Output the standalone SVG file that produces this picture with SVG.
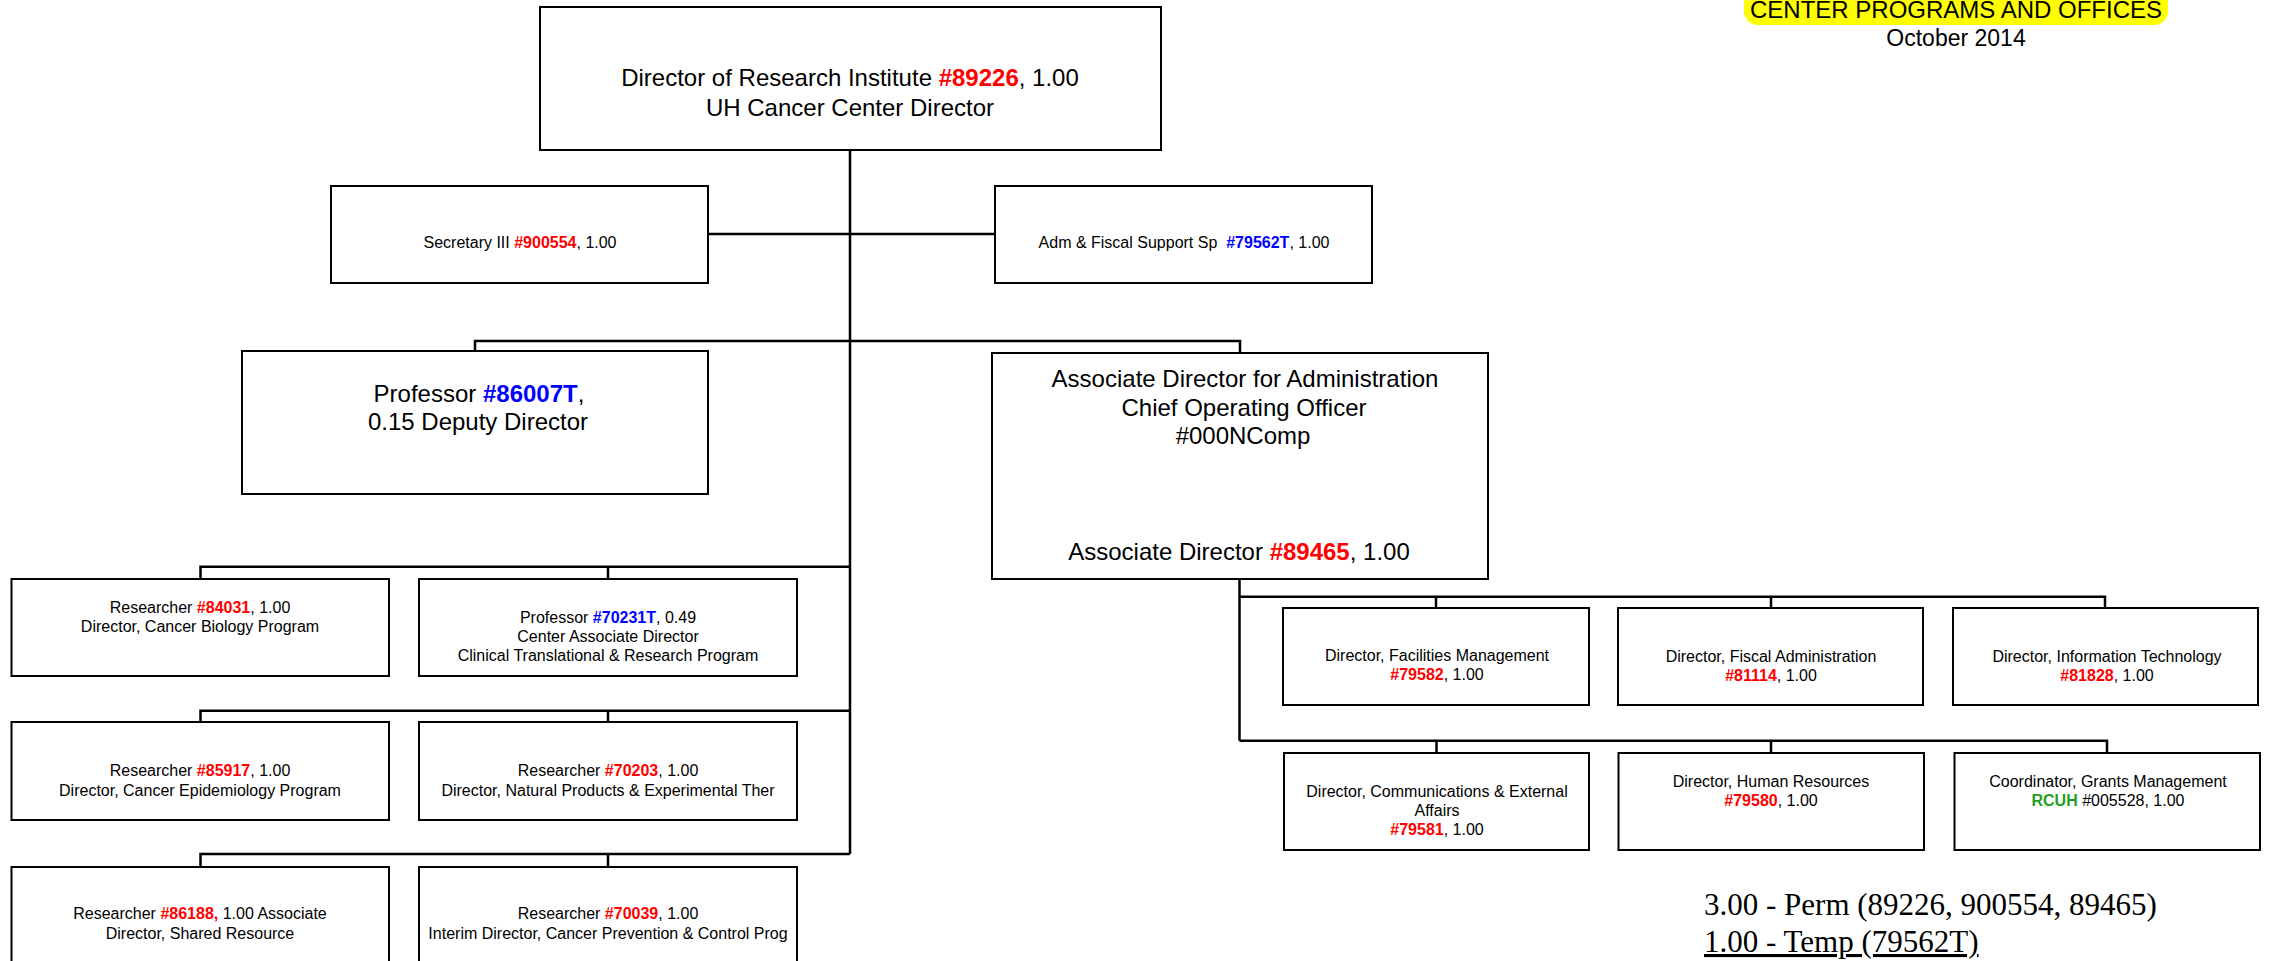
<svg xmlns="http://www.w3.org/2000/svg" width="2269" height="961" viewBox="0 0 2269 961">
<style>
  .box { fill: #ffffff; stroke: #000000; stroke-width: 2; }
  .ln { fill: none; stroke: #000000; stroke-width: 2.5; }
  text { font-family: "Liberation Sans", Arial, sans-serif; fill: #000000; text-anchor: middle; }
  .big { font-size: 24px; }
  .sm { font-size: 16px; }
  .r { fill: #ff0000; font-weight: bold; }
  .b { fill: #0000ff; font-weight: bold; }
  .g { fill: #1fa01f; font-weight: bold; }
  .serif { font-family: "Liberation Serif", "Times New Roman", serif; font-size: 31px; text-anchor: start; }
</style>
<rect width="2269" height="961" fill="#ffffff"/>

<g id="title">
  <rect x="1744" y="-12" width="424" height="37" rx="14" fill="#ffff00"/>
  <text class="big" x="1956" y="18">CENTER PROGRAMS AND OFFICES</text>
  <text x="1956" y="46" style="font-size:23px">October 2014</text>
</g>

<g id="connectors">
  <path class="ln" d="M850,150 V854"/>
  <path class="ln" d="M708,234 H995"/>
  <path class="ln" d="M475,351 V341 H1240 V353"/>
  <path class="ln" d="M200.5,579 V566.7 H850 M608,566.7 V579"/>
  <path class="ln" d="M200.5,722 V710.7 H850 M608,710.7 V722"/>
  <path class="ln" d="M200.5,867 V854 H850 M608,854 V867"/>
  <path class="ln" d="M1239.5,579 V740.7"/>
  <path class="ln" d="M1239.5,596.7 H2105 V608 M1436,596.7 V608 M1771,596.7 V608"/>
  <path class="ln" d="M1239.5,740.7 H2107 V753 M1436.5,740.7 V753 M1771,740.7 V753"/>
</g>

<g id="director">
  <rect class="box" x="540" y="7" width="621" height="143"/>
  <text class="big" x="850" y="86">Director of Research Institute <tspan class="r">#89226</tspan>, 1.00</text>
  <text class="big" x="850" y="116">UH Cancer Center Director</text>
</g>

<g id="secretary">
  <rect class="box" x="331" y="186" width="377" height="97"/>
  <text class="sm" x="520" y="248">Secretary III <tspan class="r">#900554</tspan>, 1.00</text>
</g>

<g id="adm-fiscal">
  <rect class="box" x="995" y="186" width="377" height="97"/>
  <text class="sm" x="1184" y="248">Adm &amp; Fiscal Support Sp &#160;<tspan class="b">#79562T</tspan>, 1.00</text>
</g>

<g id="professor-deputy">
  <rect class="box" x="242" y="351" width="466" height="143"/>
  <text class="big" x="479" y="402">Professor <tspan class="b">#86007T</tspan>,</text>
  <text class="big" x="478" y="430">0.15 Deputy Director</text>
</g>

<g id="assoc-director">
  <rect class="box" x="992" y="353" width="496" height="226"/>
  <text class="big" x="1245" y="387">Associate Director for Administration</text>
  <text class="big" x="1244" y="416">Chief Operating Officer</text>
  <text class="big" x="1243" y="444">#000NComp</text>
  <text class="big" x="1239" y="560">Associate Director <tspan class="r">#89465</tspan>, 1.00</text>
</g>

<g id="researcher-84031">
  <rect class="box" x="11.5" y="579" width="377.5" height="97"/>
  <text class="sm" x="200" y="613">Researcher <tspan class="r">#84031</tspan>, 1.00</text>
  <text class="sm" x="200" y="632">Director, Cancer Biology Program</text>
</g>

<g id="professor-70231T">
  <rect class="box" x="419" y="579" width="378" height="97"/>
  <text class="sm" x="608" y="623">Professor <tspan class="b">#70231T</tspan>, 0.49</text>
  <text class="sm" x="608" y="642">Center Associate Director</text>
  <text class="sm" x="608" y="661">Clinical Translational &amp; Research Program</text>
</g>

<g id="researcher-85917">
  <rect class="box" x="11.5" y="722" width="377.5" height="98"/>
  <text class="sm" x="200" y="776">Researcher <tspan class="r">#85917</tspan>, 1.00</text>
  <text class="sm" x="200" y="796">Director, Cancer Epidemiology Program</text>
</g>

<g id="researcher-70203">
  <rect class="box" x="419" y="722" width="378" height="98"/>
  <text class="sm" x="608" y="776">Researcher <tspan class="r">#70203</tspan>, 1.00</text>
  <text class="sm" x="608" y="796">Director, Natural Products &amp; Experimental Ther</text>
</g>

<g id="researcher-86188">
  <rect class="box" x="11.5" y="867" width="377.5" height="110"/>
  <text class="sm" x="200" y="919">Researcher <tspan class="r">#86188,</tspan> 1.00 Associate</text>
  <text class="sm" x="200" y="939">Director, Shared Resource</text>
</g>

<g id="researcher-70039">
  <rect class="box" x="419" y="867" width="378" height="110"/>
  <text class="sm" x="608" y="919">Researcher <tspan class="r">#70039</tspan>, 1.00</text>
  <text class="sm" x="608" y="939">Interim Director, Cancer Prevention &amp; Control Prog</text>
</g>

<g id="facilities">
  <rect class="box" x="1283" y="608" width="306" height="97"/>
  <text class="sm" x="1437" y="661">Director, Facilities Management</text>
  <text class="sm" x="1437" y="680"><tspan class="r">#79582</tspan>, 1.00</text>
</g>

<g id="fiscal-admin">
  <rect class="box" x="1618" y="608" width="305" height="97"/>
  <text class="sm" x="1771" y="662">Director, Fiscal Administration</text>
  <text class="sm" x="1771" y="681"><tspan class="r">#81114</tspan>, 1.00</text>
</g>

<g id="info-tech">
  <rect class="box" x="1953" y="608" width="305" height="97"/>
  <text class="sm" x="2107" y="662">Director, Information Technology</text>
  <text class="sm" x="2107" y="681"><tspan class="r">#81828</tspan>, 1.00</text>
</g>

<g id="communications">
  <rect class="box" x="1284" y="753" width="305" height="97"/>
  <text class="sm" x="1437" y="797">Director, Communications &amp; External</text>
  <text class="sm" x="1437" y="816">Affairs</text>
  <text class="sm" x="1437" y="835"><tspan class="r">#79581</tspan>, 1.00</text>
</g>

<g id="human-resources">
  <rect class="box" x="1618.5" y="753" width="305.5" height="97"/>
  <text class="sm" x="1771" y="787">Director, Human Resources</text>
  <text class="sm" x="1771" y="806"><tspan class="r">#79580</tspan>, 1.00</text>
</g>

<g id="grants">
  <rect class="box" x="1954.5" y="753" width="305.5" height="97"/>
  <text class="sm" x="2108" y="787">Coordinator, Grants Management</text>
  <text class="sm" x="2108" y="806"><tspan class="g">RCUH</tspan> #005528, 1.00</text>
</g>

<g id="totals">
  <text class="serif" x="1704" y="915">3.00 - Perm (89226, 900554, 89465)</text>
  <text class="serif" x="1704" y="952" text-decoration="underline">1.00 - Temp (79562T)</text>
</g>
</svg>
